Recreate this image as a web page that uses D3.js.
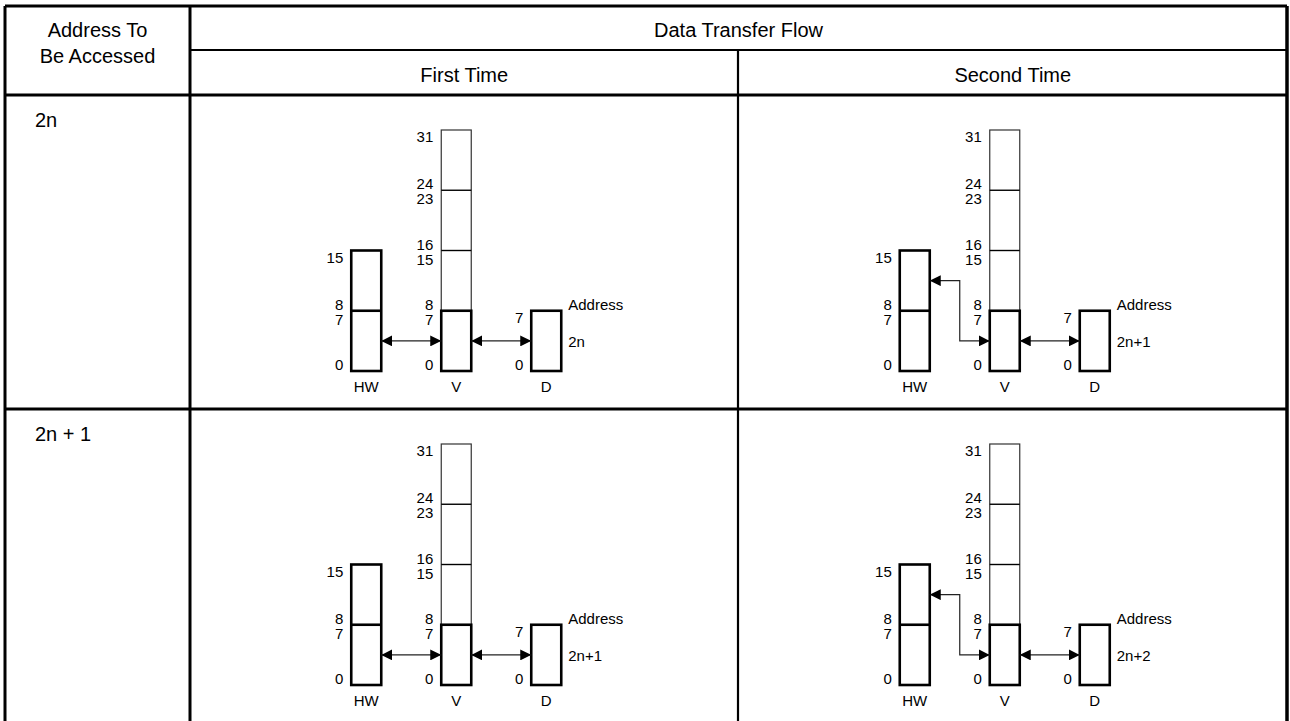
<!DOCTYPE html>
<html>
  <head>
    <meta http-equiv="Content-type" content="text/html; charset=utf-8">
    <title>Data Transfer Flow</title>
    <script src="https://d3js.org/d3.v7.min.js"></script>
    <style>
      body { margin: 0; background: #fff; }
      text { font-family: "Liberation Sans", Arial, Helvetica, sans-serif; fill: #000; }
    </style>
  </head>
  <body>
    <div id="chart"></div>
    <script type="text/javascript">
      // table text
      var headLeft = ["Address To", "Be Accessed"];
      var headTop = "Data Transfer Flow";
      var colLabels = ["First Time", "Second Time"];
      var rowLabels = ["2n", "2n + 1"];
      // registers and their bit widths
      var registers = ["HW", "V", "D"];
      var regBits = [16, 32, 8];
      var regMarks = [[0, 7, 8, 15], [0, 7, 8, 15, 16, 23, 24, 31], [0, 7]];
      // address shown next to D, per row and column
      var addresses = [["2n", "2n+1"], ["2n+1", "2n+2"]];
      // which byte of HW gets the data (0 = low, 1 = high), per column
      var hwByte = [0, 1];

      var width = 1290, height = 721;
      var X = [5, 190, 738, 1287];     // table vertical lines
      var Y = [6, 50, 95, 409];        // table horizontal lines
      var rowH = Y[3] - Y[2];

      var svg = d3.select("#chart").append("svg")
        .attr("width", width)
        .attr("height", height);

      var defs = svg.append("defs");
      defs.append("marker")
        .attr("id", "head")
        .attr("viewBox", "0 0 10 10")
        .attr("refX", 10).attr("refY", 5)
        .attr("markerUnits", "userSpaceOnUse")
        .attr("markerWidth", 11).attr("markerHeight", 11)
        .attr("orient", "auto-start-reverse")
        .append("path")
        .attr("d", "M0,0L10,5L0,10Z")
        .attr("fill", "#000");

      // columns of the panel part
      var colX = d3.scaleBand().domain(colLabels).range([X[1], X[3]]);

      // ---- table grid ----
      var grid = svg.append("g").attr("stroke", "#000").attr("fill", "none");
      grid.append("line").attr("x1", X[0]).attr("x2", X[3]).attr("y1", Y[0]).attr("y2", Y[0]).attr("stroke-width", 3);
      grid.append("line").attr("x1", X[1]).attr("x2", X[3]).attr("y1", Y[1]).attr("y2", Y[1]).attr("stroke-width", 2.2);
      grid.append("line").attr("x1", X[0]).attr("x2", X[3]).attr("y1", Y[2]).attr("y2", Y[2]).attr("stroke-width", 3);
      grid.append("line").attr("x1", X[0]).attr("x2", X[3]).attr("y1", Y[3]).attr("y2", Y[3]).attr("stroke-width", 3);
      grid.append("line").attr("x1", X[0]).attr("x2", X[0]).attr("y1", Y[0]).attr("y2", height).attr("stroke-width", 3);
      grid.append("line").attr("x1", X[1]).attr("x2", X[1]).attr("y1", Y[0]).attr("y2", height).attr("stroke-width", 3);
      grid.append("line").attr("x1", X[2]).attr("x2", X[2]).attr("y1", Y[1]).attr("y2", height).attr("stroke-width", 2.2);
      grid.append("line").attr("x1", X[3]).attr("x2", X[3]).attr("y1", Y[0]).attr("y2", height).attr("stroke-width", 3.5);

      // ---- header text ----
      var head = svg.append("g").style("font-size", "20px").attr("text-anchor", "middle");
      head.selectAll(".hl").data(headLeft).enter().append("text")
        .attr("x", (X[0] + X[1]) / 2)
        .attr("y", function(d, i) { return 37 + i * 26; })
        .text(function(d) { return d; });
      head.append("text")
        .attr("x", (X[1] + X[3]) / 2).attr("y", 37)
        .text(headTop);
      head.selectAll(".cl").data(colLabels).enter().append("text")
        .attr("x", function(d) { return colX(d) + colX.bandwidth() / 2; })
        .attr("y", 82)
        .text(function(d) { return d; });

      // ---- rows ----
      rowLabels.forEach(function(rl, r) {
        var top = Y[2] + r * rowH;
        svg.append("text")
          .style("font-size", "20px")
          .attr("x", 35).attr("y", top + 32)
          .text(rl);

        var y = d3.scaleLinear().domain([0, 32]).range([top + 276, top + 35]);

        colLabels.forEach(function(cl, c) {
          var cx = colX(cl) + colX.bandwidth() / 2;
          var rx = d3.scalePoint().domain(registers).range([cx - 113, cx + 67]);
          var bw = 30;
          var g = svg.append("g");

          registers.forEach(function(reg, k) {
            var x0 = rx(reg);
            var bits = regBits[k];
            if (reg === "V") {
              // upper three bytes drawn thin
              g.append("rect")
                .attr("x", x0).attr("y", y(bits))
                .attr("width", bw).attr("height", y(8) - y(bits))
                .attr("fill", "none").attr("stroke", "#333").attr("stroke-width", 1.2);
              [16, 24].forEach(function(b) {
                g.append("line")
                  .attr("x1", x0).attr("x2", x0 + bw)
                  .attr("y1", y(b)).attr("y2", y(b))
                  .attr("stroke", "#000").attr("stroke-width", 1.4);
              });
              g.append("rect")
                .attr("x", x0).attr("y", y(8))
                .attr("width", bw).attr("height", y(0) - y(8))
                .attr("fill", "none").attr("stroke", "#000").attr("stroke-width", 2.6);
            } else {
              g.append("rect")
                .attr("x", x0).attr("y", y(bits))
                .attr("width", bw).attr("height", y(0) - y(bits))
                .attr("fill", "none").attr("stroke", "#000").attr("stroke-width", 2.6);
              if (bits > 8) {
                g.append("line")
                  .attr("x1", x0).attr("x2", x0 + bw)
                  .attr("y1", y(8)).attr("y2", y(8))
                  .attr("stroke", "#000").attr("stroke-width", 2.6);
              }
            }
            // bit numbers
            g.selectAll(null).data(regMarks[k]).enter().append("text")
              .style("font-size", "15px")
              .attr("text-anchor", "end")
              .attr("x", x0 - 8)
              .attr("y", function(m) {
                if (m === 0) return y(0) - 1;
                if (m === bits - 1) return y(bits) + 12;
                if (m % 8 === 0) return y(m) - 1;
                return y(m + 1) + 14;
              })
              .text(function(m) { return m; });
            // register name
            g.append("text")
              .style("font-size", "15px")
              .attr("text-anchor", "middle")
              .attr("x", x0 + bw / 2).attr("y", y(0) + 21)
              .text(reg);
          });

          // address label
          var dx = rx("D") + bw;
          g.append("text").style("font-size", "15px")
            .attr("x", dx + 7).attr("y", y(8) - 1).text("Address");
          g.append("text").style("font-size", "15px")
            .attr("x", dx + 7).attr("y", y(4) + 6).text(addresses[r][c]);

          // arrows
          var hwR = rx("HW") + bw, vL = rx("V"), vR = rx("V") + bw, dL = rx("D");
          var yLow = y(4), yHw = y(4 + 8 * hwByte[c]);
          var path = d3.path();
          path.moveTo(hwR, yHw);
          if (hwByte[c] === 0) {
            path.lineTo(vL, yLow);
          } else {
            var mx = (hwR + vL) / 2;
            path.lineTo(mx, yHw);
            path.lineTo(mx, yLow);
            path.lineTo(vL, yLow);
          }
          var p2 = d3.path();
          p2.moveTo(vR, yLow);
          p2.lineTo(dL, yLow);
          [path, p2].forEach(function(p) {
            g.append("path")
              .attr("d", p.toString())
              .attr("fill", "none").attr("stroke", "#222").attr("stroke-width", 1.2)
              .attr("marker-start", "url(#head)")
              .attr("marker-end", "url(#head)");
          });
        });
      });
    </script>
  </body>
</html>
